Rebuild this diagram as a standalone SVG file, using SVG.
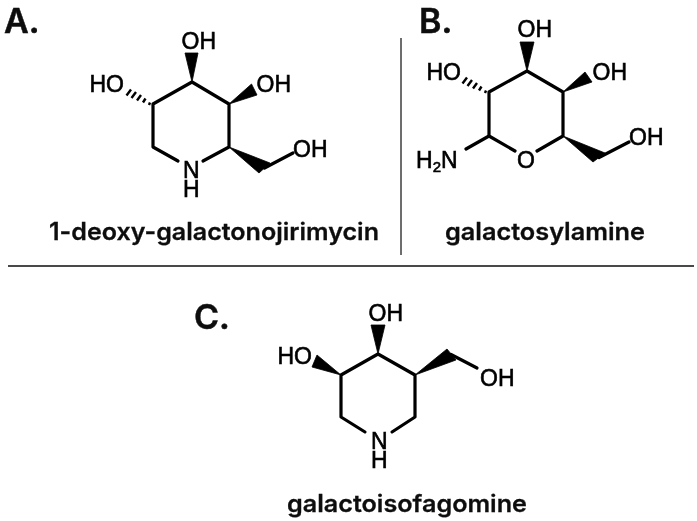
<svg xmlns="http://www.w3.org/2000/svg" width="697" height="521" viewBox="0 0 697 521">
<defs><filter id="soft" x="0" y="0" width="1" height="1"><feGaussianBlur stdDeviation="0.45"/></filter></defs>
<style>
.bond{fill:none;stroke:#000;stroke-width:3.2;stroke-linecap:round;stroke-linejoin:round}
.hash{fill:none;stroke:#000;stroke-width:2.4}
.wedge{fill:#000;stroke:#000;stroke-width:.8;stroke-linejoin:round}
.atom{font-family:"Liberation Sans",Arial,sans-serif;font-size:23px;fill:#000;stroke:#000;stroke-width:.6}
.sub{font-size:15px}
.name{font-family:Inter,"Liberation Sans",sans-serif;font-size:24px;font-weight:600;fill:#111;stroke:#111;stroke-width:.3}
.tag{font-family:Inter,"Liberation Sans",sans-serif;font-size:34px;font-weight:600;fill:#111;stroke:#111;stroke-width:.5}
.rule{stroke:#4a4a4a;fill:none}
</style>
<rect width="697" height="521" fill="#fff"/>
<g filter="url(#soft)">
<g id="dividers">
<line class="rule" x1="401" y1="38" x2="401" y2="255" stroke-width="1.6"/>
<line class="rule" x1="8" y1="266" x2="694" y2="266" stroke-width="2"/>
</g>
<g id="molecule-a">
<text class="tag" x="4" y="33">A.</text>
<path class="bond" d="M178 161L153 147V104L192 82L229 104V147L203 161"/>
<path class="bond" d="M264.500 168L293 153"/>
<polygon class="wedge" points="192,82 185,53 198,53"/>
<polygon class="wedge" points="229,104 251.500,84 257,95"/>
<polygon class="wedge" points="229,147 259,173 270,163"/>
<path class="hash" d="M150 102.500L149 105M145.500 98.500L143 102.500M141 95L137 100.500M136 92L131.500 98M131 89.500L126.500 95.500"/>
<text class="atom" x="181.500" y="49">OH</text>
<text class="atom" x="89.500" y="92">HO</text>
<text class="atom" x="256.500" y="92">OH</text>
<text class="atom" x="293" y="157">OH</text>
<text class="atom" x="183" y="178">N<tspan x="183" dy="19">H</tspan></text>
<text class="name" x="49" y="240" textLength="330" lengthAdjust="spacingAndGlyphs">1-deoxy-galactonojirimycin</text>
</g>
<g id="molecule-b">
<text class="tag" x="419" y="33">B.</text>
<path class="bond" d="M515 151L489 136V92L527 71L563 92V136L537 151"/>
<path class="bond" d="M489 136L466 149M599 157.500L629 142"/>
<polygon class="wedge" points="527,71 520,42 534,42"/>
<polygon class="wedge" points="563,92 585,72 592,82"/>
<polygon class="wedge" points="563,136 593,162 605,153"/>
<path class="hash" d="M486 90.500L485 93M481.500 86.500L479 90.500M477 83L473 88.500M472 80L467.500 86M467 77.500L462.500 83.500"/>
<text class="atom" x="517.500" y="37">OH</text>
<text class="atom" x="426.500" y="80">HO</text>
<text class="atom" x="592.500" y="80">OH</text>
<text class="atom" x="629" y="145">OH</text>
<text class="atom" x="416" y="168">H<tspan class="sub" dy="4">2</tspan><tspan dy="-4">N</tspan></text>
<text class="atom" x="517" y="168">O</text>
<text class="name" x="445" y="240" textLength="200" lengthAdjust="spacingAndGlyphs">galactosylamine</text>
</g>
<g id="molecule-c">
<text class="tag" x="194" y="329">C.</text>
<path class="bond" d="M365 432L341 417V375L378 354L415 375V417L392 432"/>
<path class="bond" d="M451 354.500L477 368"/>
<polygon class="wedge" points="378,354 371,325 385,325"/>
<polygon class="wedge" points="341,375 312,367 317,355"/>
<polygon class="wedge" points="415,375 447,349 456,360"/>
<text class="atom" x="368.500" y="321">OH</text>
<text class="atom" x="277.500" y="364">HO</text>
<text class="atom" x="480" y="386">OH</text>
<text class="atom" x="371" y="449">N<tspan x="371" dy="19">H</tspan></text>
<text class="name" x="287" y="512" textLength="240" lengthAdjust="spacingAndGlyphs">galactoisofagomine</text>
</g>
</g>
</svg>
